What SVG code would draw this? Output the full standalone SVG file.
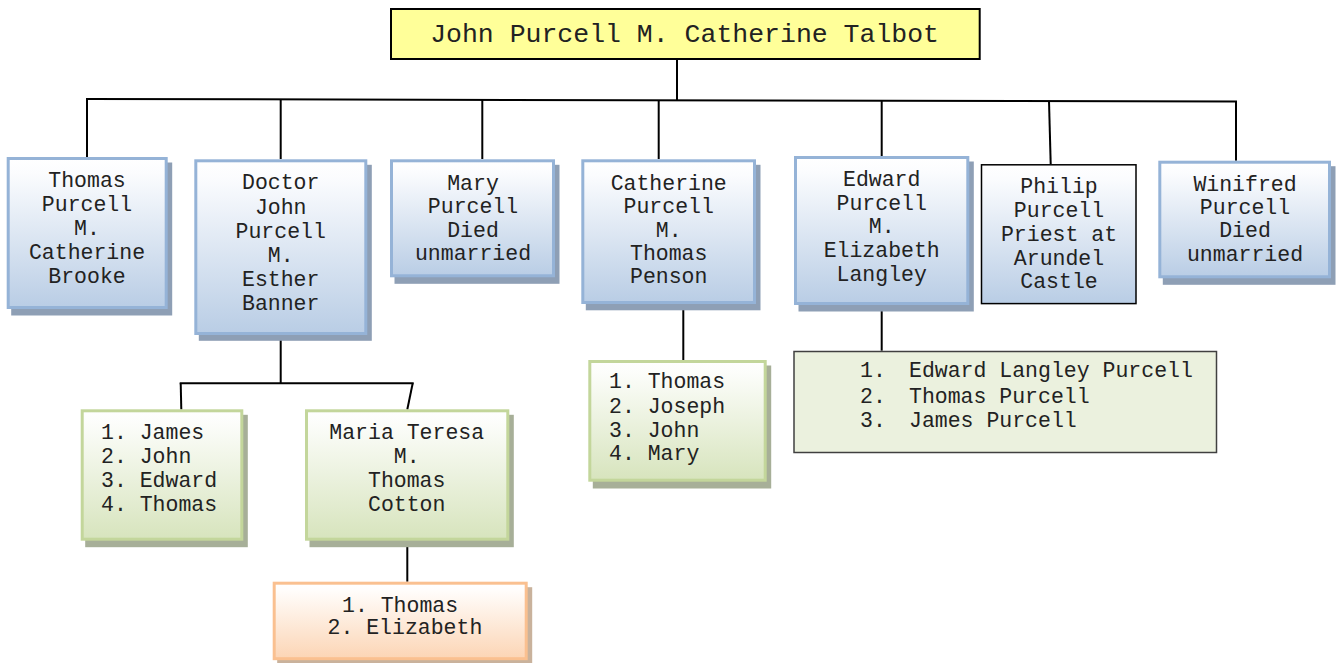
<svg xmlns="http://www.w3.org/2000/svg" width="1338" height="663" viewBox="0 0 1338 663">
<style>
  text { font-family: "Liberation Mono", "Courier New", monospace; font-size: 21.5px; fill: #222; }
  .c { text-anchor: middle; }
  .root { font-size: 26.5px; }
  .blue { fill: url(#gBlue); stroke: #95b3d7; stroke-width: 3; }
  .green { fill: url(#gGreen); stroke: #c3d69b; stroke-width: 3; }
  .orange { fill: url(#gOrange); stroke: #fac090; stroke-width: 3; }
  .sb { fill: #8e9fb5; }
  .sg { fill: #a7af98; }
  .so { fill: #c9b29c; }
  .conn line, .conn path { stroke: #000; stroke-width: 2; fill: none; }
</style>
<defs>
  <linearGradient id="gBlue" x1="0" y1="0" x2="0" y2="1">
    <stop offset="0" stop-color="#ffffff"/>
    <stop offset="0.1" stop-color="#fbfcfe"/>
    <stop offset="1" stop-color="#b9cde5"/>
  </linearGradient>
  <linearGradient id="gGreen" x1="0" y1="0" x2="0" y2="1">
    <stop offset="0" stop-color="#ffffff"/>
    <stop offset="0.1" stop-color="#fcfdfa"/>
    <stop offset="1" stop-color="#d7e4bd"/>
  </linearGradient>
  <linearGradient id="gOrange" x1="0" y1="0" x2="0" y2="1">
    <stop offset="0" stop-color="#ffffff"/>
    <stop offset="0.1" stop-color="#fffdfb"/>
    <stop offset="1" stop-color="#fcd5b5"/>
  </linearGradient>
</defs>
<rect width="1338" height="663" fill="#ffffff"/>

<g id="connectors" class="conn">
  <line x1="677" y1="60" x2="677" y2="100"/>
  <line x1="86" y1="99" x2="1237" y2="101.5"/>
  <line x1="87" y1="99" x2="87" y2="157"/>
  <line x1="280.7" y1="99.4" x2="280.7" y2="159"/>
  <line x1="482.3" y1="99.9" x2="482.3" y2="159"/>
  <line x1="658.7" y1="100.2" x2="658.7" y2="159"/>
  <line x1="881.7" y1="100.7" x2="881.7" y2="156"/>
  <line x1="1049" y1="101" x2="1050.7" y2="164"/>
  <line x1="1236" y1="101.5" x2="1236" y2="160.7"/>
  <line x1="280.7" y1="335" x2="280.7" y2="383.3"/>
  <line x1="179.7" y1="383.3" x2="413.7" y2="383.3"/>
  <line x1="180.7" y1="383.3" x2="181.3" y2="409.5"/>
  <line x1="412.7" y1="383.3" x2="407.3" y2="409.5"/>
  <line x1="407.3" y1="541" x2="407.3" y2="581.7"/>
  <line x1="683.3" y1="304" x2="683.3" y2="360"/>
  <line x1="881.7" y1="305" x2="881.7" y2="350.7"/>
</g>

<g id="root">
  <rect x="391" y="9" width="588.7" height="50" fill="#ffff99" stroke="#000" stroke-width="2"/>
  <text class="c root" x="684.6" y="41.5">John Purcell M. Catherine Talbot</text>
</g>

<g id="thomas">
  <rect class="sb" x="11.2" y="162.5" width="161" height="153"/>
  <rect class="blue" x="8.2" y="158.5" width="158" height="149"/>
  <text class="c" x="87" y="187">Thomas</text>
  <text class="c" x="87" y="211">Purcell</text>
  <text class="c" x="87" y="235">M.</text>
  <text class="c" x="87" y="259">Catherine</text>
  <text class="c" x="87" y="283">Brooke</text>
</g>

<g id="doctor-john">
  <rect class="sb" x="198.8" y="164.8" width="173" height="176"/>
  <rect class="blue" x="195.8" y="160.8" width="170" height="172.7"/>
  <text class="c" x="280.7" y="189.3">Doctor</text>
  <text class="c" x="280.7" y="213.5">John</text>
  <text class="c" x="280.7" y="237.7">Purcell</text>
  <text class="c" x="280.7" y="261.9">M.</text>
  <text class="c" x="280.7" y="286.1">Esther</text>
  <text class="c" x="280.7" y="310.3">Banner</text>
</g>

<g id="mary">
  <rect class="sb" x="394.5" y="164.8" width="165" height="119"/>
  <rect class="blue" x="391.5" y="160.8" width="162" height="115"/>
  <text class="c" x="473" y="190">Mary</text>
  <text class="c" x="473" y="213.3">Purcell</text>
  <text class="c" x="473" y="236.7">Died</text>
  <text class="c" x="473" y="260">unmarried</text>
</g>

<g id="catherine">
  <rect class="sb" x="585.8" y="164.8" width="174.7" height="145.5"/>
  <rect class="blue" x="582.8" y="160.8" width="171.7" height="141.7"/>
  <text class="c" x="668.7" y="190">Catherine</text>
  <text class="c" x="668.7" y="213.3">Purcell</text>
  <text class="c" x="668.7" y="236.7">M.</text>
  <text class="c" x="668.7" y="260">Thomas</text>
  <text class="c" x="668.7" y="283.3">Penson</text>
</g>

<g id="edward">
  <rect class="sb" x="798.5" y="161.5" width="175.3" height="150"/>
  <rect class="blue" x="795.5" y="157.5" width="172.3" height="146"/>
  <text class="c" x="881.7" y="186">Edward</text>
  <text class="c" x="881.7" y="209.7">Purcell</text>
  <text class="c" x="881.7" y="233.4">M.</text>
  <text class="c" x="881.7" y="257.1">Elizabeth</text>
  <text class="c" x="881.7" y="280.8">Langley</text>
</g>

<g id="philip">
  <rect x="981.5" y="164.8" width="154.5" height="138.8" fill="url(#gBlue)" stroke="#000" stroke-width="1.5"/>
  <text class="c" x="1059" y="193.3">Philip</text>
  <text class="c" x="1059" y="216.8">Purcell</text>
  <text class="c" x="1059" y="240.8">Priest at</text>
  <text class="c" x="1059" y="264.6">Arundel</text>
  <text class="c" x="1059" y="287.6">Castle</text>
</g>

<g id="winifred">
  <rect class="sb" x="1162.8" y="166.2" width="172.7" height="118.6"/>
  <rect class="blue" x="1159.8" y="162.2" width="169.7" height="114.6"/>
  <text class="c" x="1245" y="190.7">Winifred</text>
  <text class="c" x="1245" y="214">Purcell</text>
  <text class="c" x="1245" y="237.3">Died</text>
  <text class="c" x="1245" y="260.7">unmarried</text>
</g>

<g id="john-sons">
  <rect class="sg" x="85.2" y="414.8" width="162.6" height="132.4"/>
  <rect class="green" x="82.2" y="410.8" width="159.6" height="128.4"/>
  <text x="101" y="439.3">1. James</text>
  <text x="101" y="463.3">2. John</text>
  <text x="101" y="487.3">3. Edward</text>
  <text x="101" y="510.7">4. Thomas</text>
</g>

<g id="maria-teresa">
  <rect class="sg" x="309.5" y="414.8" width="204.3" height="132.4"/>
  <rect class="green" x="306.5" y="410.8" width="201.3" height="128.4"/>
  <text class="c" x="406.7" y="439.3">Maria Teresa</text>
  <text class="c" x="406.7" y="463.3">M.</text>
  <text class="c" x="406.7" y="487.3">Thomas</text>
  <text class="c" x="406.7" y="510.7">Cotton</text>
</g>

<g id="maria-children">
  <rect class="so" x="277.2" y="587.2" width="255" height="78"/>
  <rect class="orange" x="274.2" y="583.2" width="252" height="75.5"/>
  <text x="342" y="611.7">1. Thomas</text>
  <text x="327.5" y="634">2. Elizabeth</text>
</g>

<g id="catherine-children">
  <rect class="sg" x="592.8" y="365.5" width="178.4" height="123"/>
  <rect class="green" x="589.8" y="361.5" width="175.4" height="118.7"/>
  <text x="609" y="388.3">1. Thomas</text>
  <text x="609" y="412.7">2. Joseph</text>
  <text x="609" y="436.7">3. John</text>
  <text x="609" y="460">4. Mary</text>
</g>

<g id="edward-children">
  <rect x="794" y="351.5" width="422.5" height="101" fill="#ebf1de" stroke="#404040" stroke-width="1.5"/>
  <text x="860" y="377.3">1.</text>
  <text x="909" y="377.3">Edward Langley Purcell</text>
  <text x="860" y="403.3">2.</text>
  <text x="909" y="403.3">Thomas Purcell</text>
  <text x="860" y="426.7">3.</text>
  <text x="909" y="426.7">James Purcell</text>
</g>
</svg>
